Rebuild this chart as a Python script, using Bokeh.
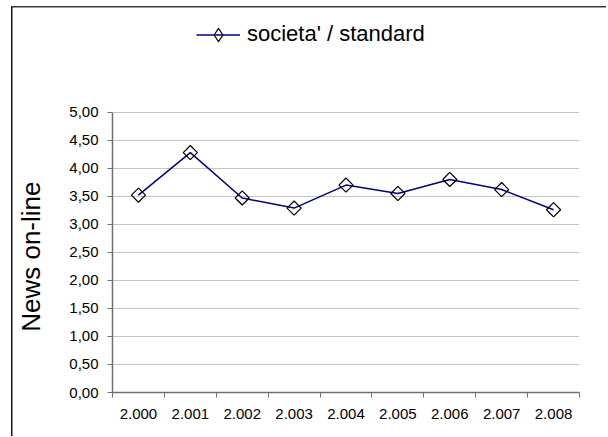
import math
from bokeh.plotting import figure
from bokeh.models import Range1d, FixedTicker, Legend, LegendItem
from bokeh.embed import file_html
from bokeh.resources import INLINE

# ---- data ----
years = [2000, 2001, 2002, 2003, 2004, 2005, 2006, 2007, 2008]
x_tick_labels = ["2.000", "2.001", "2.002", "2.003", "2.004", "2.005", "2.006", "2.007", "2.008"]
values = [3.52, 4.28, 3.47, 3.29, 3.70, 3.55, 3.80, 3.62, 3.26]
series_name = "societa' / standard"
y_axis_title = "News on-line"
y_tick_values = [0.0, 0.5, 1.0, 1.5, 2.0, 2.5, 3.0, 3.5, 4.0, 4.5, 5.0]
y_tick_labels = ["0,00", "0,50", "1,00", "1,50", "2,00", "2,50", "3,00", "3,50", "4,00", "4,50", "5,00"]

FONT = "Liberation Sans"
AXIS_COLOR = "#707070"

# layout (pixels): frame extends above the value area so the legend fits inside it
W, H = 606, 436
FRAME_LEFT, FRAME_RIGHT = 112, 579
FRAME_TOP, AXIS_BOTTOM, VALUE_TOP = 12, 392, 111.7
px_per_unit = (AXIS_BOTTOM - VALUE_TOP) / y_tick_values[-1]
y_end = (AXIS_BOTTOM - FRAME_TOP) / px_per_unit

# chart-area border (left and top edges) painted behind a transparent canvas
border_css = {
    "background-color": "white",
    "background-image": "linear-gradient(#151515, #151515), linear-gradient(#3a3a3a, #3a3a3a)",
    "background-position": "11px 7px, 11px 6px",
    "background-size": "1.5px 100%, 100% 1.5px",
    "background-repeat": "no-repeat",
}

p = figure(width=W, height=H, output_backend="svg", toolbar_location=None,
           x_range=Range1d(years[0] - 0.5, years[-1] + 0.5), y_range=Range1d(0, y_end),
           min_border_left=FRAME_LEFT, min_border_right=W - FRAME_RIGHT,
           min_border_top=FRAME_TOP, min_border_bottom=H - AXIS_BOTTOM, styles=border_css)
p.background_fill_color = None
p.border_fill_color = None
p.outline_line_color = None
# range used only by the legend-key renderer, so that its points fall outside the plot
p.extra_y_ranges = {"legend_key": Range1d(1000, 2000)}

line_r = p.line(years, values, line_color="#000080", line_width=1.5)
mark_r = p.scatter(years, values, marker="square", angle=math.pi / 4, size=10,
                   line_color="black", line_width=1.2, fill_color=None)
# legend key marker (the legend draws markers unrotated, so use a diamond shape)
key_r = p.scatter(years, values, marker="diamond", size=14, y_range_name="legend_key",
                  line_color="black", line_width=1.2, fill_color=None)

# y axis
yax = p.yaxis[0]
yax.bounds = (y_tick_values[0], y_tick_values[-1])
yax.ticker = FixedTicker(ticks=y_tick_values)
yax.major_label_overrides = {v: l for v, l in zip(y_tick_values, y_tick_labels)}
yax.axis_line_color = AXIS_COLOR
yax.axis_line_width = 1.5
yax.major_tick_line_color = AXIS_COLOR
yax.major_tick_out = 5
yax.major_tick_in = 0
yax.minor_tick_line_color = None
yax.major_label_text_font = FONT
yax.major_label_text_font_size = "15px"
yax.major_label_text_color = "black"
yax.major_label_standoff = 9
# trailing no-break spaces move the visible title down to the middle of the value area
yax.axis_label = y_axis_title + "\u00a0" * 15
yax.axis_label_text_font = FONT
yax.axis_label_text_font_size = "26px"
yax.axis_label_text_font_style = "normal"
yax.axis_label_text_color = "black"
yax.axis_label_standoff = 20

# x axis
xax = p.xaxis[0]
minor_positions = [y - 0.5 for y in years] + [years[-1] + 0.5]
xax.ticker = FixedTicker(ticks=years, minor_ticks=minor_positions)
xax.major_label_overrides = {v: l for v, l in zip(years, x_tick_labels)}
xax.axis_line_color = AXIS_COLOR
xax.axis_line_width = 1.5
xax.major_tick_line_color = None
xax.major_tick_out = 0
xax.major_tick_in = 0
xax.minor_tick_line_color = AXIS_COLOR
xax.minor_tick_out = 5
xax.minor_tick_in = 0
xax.major_label_text_font = FONT
xax.major_label_text_font_size = "15px"
xax.major_label_text_color = "black"
xax.major_label_standoff = 11

p.xgrid.grid_line_color = None
p.ygrid.ticker = FixedTicker(ticks=y_tick_values)
p.ygrid.grid_line_color = "#c4c4c4"
p.ygrid.grid_line_width = 1

# legend (inside the frame, above the value area)
legend = Legend(items=[LegendItem(label=series_name, renderers=[line_r, key_r])],
                location=(84, AXIS_BOTTOM - 50.5), orientation="vertical",
                border_line_color=None, background_fill_alpha=0,
                padding=0, margin=0, spacing=0,
                glyph_width=44, glyph_height=33, label_height=33, label_standoff=7,
                label_text_font=FONT, label_text_font_size="22px", label_text_color="black")
p.add_layout(legend, "center")

open("out.html", "w").write(file_html(p, INLINE))
